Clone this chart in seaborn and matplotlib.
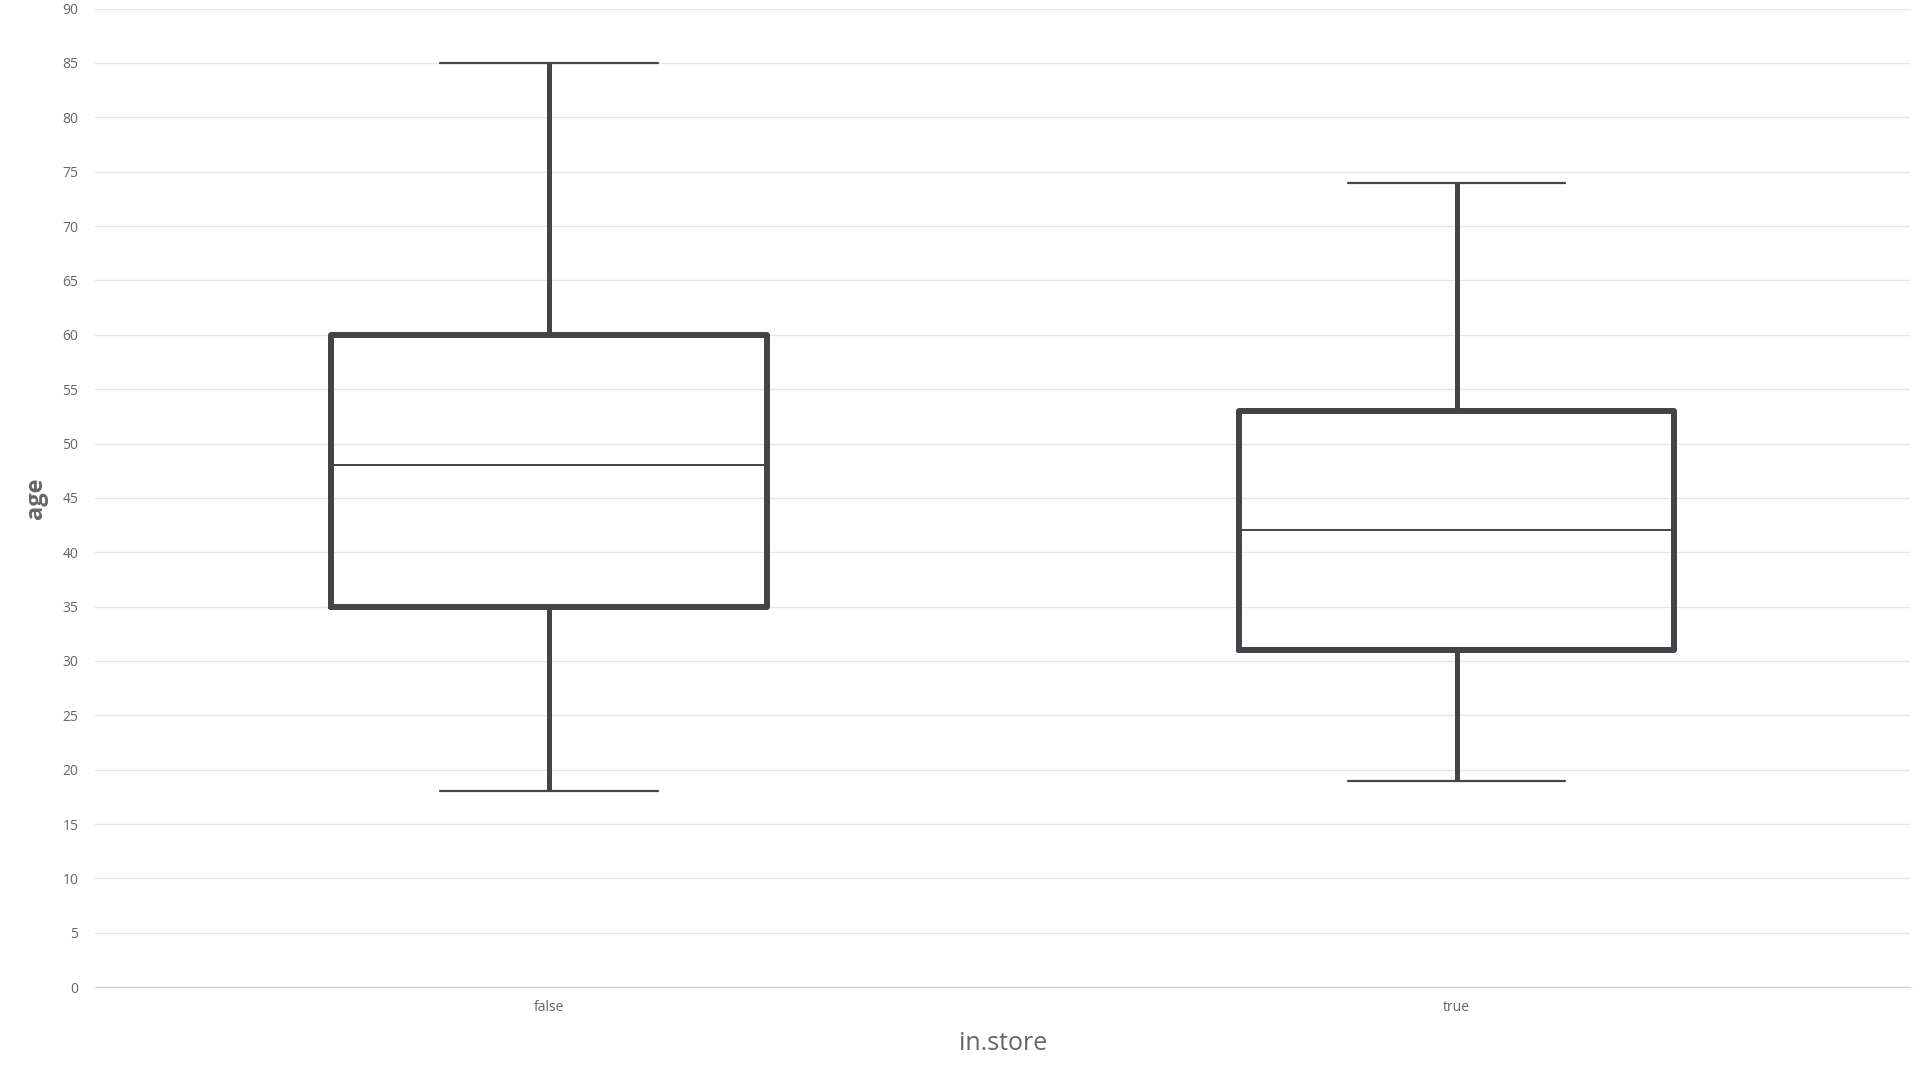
import pandas as pd
import matplotlib
matplotlib.use('Agg')
import matplotlib.pyplot as plt
import seaborn as sns

# 각 그룹의 다섯 값 요약 (최소, Q1, 중앙값, Q3, 최대)
false_ages = [18, 35, 48, 60, 85]
true_ages = [19, 31, 42, 53, 74]
categories = ['false', 'true']

data = pd.DataFrame({
    'in.store': [categories[0]] * len(false_ages) + [categories[1]] * len(true_ages),
    'age': false_ages + true_ages,
})

sns.set_style('white')
plt.rcParams['font.family'] = ['Open Sans', 'DejaVu Sans']

fig = plt.figure(figsize=(19.2, 10.8), dpi=100)
ax = fig.add_axes([0.0495, 0.086, 0.9455, 0.906])

line_col = '#444448'
sns.boxplot(x='in.store', y='age', data=data, order=categories, ax=ax,
            width=0.48, whis=(0, 100), fill=False, color=line_col,
            boxprops=dict(linewidth=4.3, color=line_col),
            whiskerprops=dict(linewidth=3.6, color=line_col),
            capprops=dict(linewidth=1.6, color=line_col),
            medianprops=dict(linewidth=1.4, color=line_col),
            showfliers=False)

ax.set_ylim(0, 90)
ax.set_xlim(-0.5, 1.5)
ax.set_yticks(range(0, 91, 5))
ax.yaxis.grid(True, color='#e6e6e6', linewidth=1)
ax.set_axisbelow(True)
for side in ['top', 'right', 'left']:
    ax.spines[side].set_visible(False)
ax.spines['bottom'].set_color('#ccd6eb')
ax.spines['bottom'].set_linewidth(1)
ax.tick_params(axis='both', length=0, labelsize=10, labelcolor='#666666')
ax.tick_params(axis='y', pad=12)
ax.tick_params(axis='x', pad=9)

ax.set_xlabel('in.store', fontsize=18, color='#666666', labelpad=12)
ax.set_ylabel('age', fontsize=17, color='#666666', fontweight='bold', labelpad=10)

fig.savefig('out.png', dpi=100)
